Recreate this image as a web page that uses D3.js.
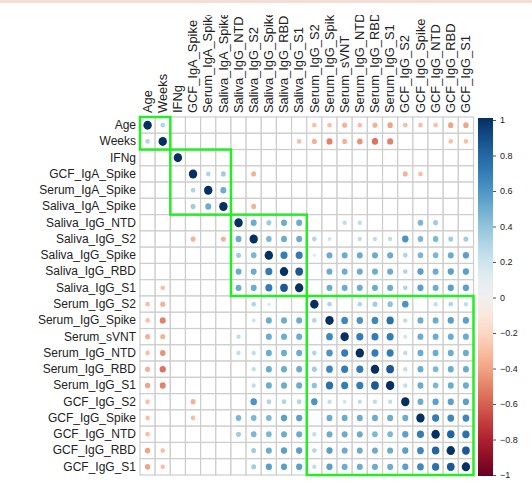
<!DOCTYPE html>
<html>
<head>
<meta charset="utf-8">
<script src="https://cdn.jsdelivr.net/npm/d3@7"></script>
<style>
  body { margin: 0; background: #fff; }
  svg { font-family: "Liberation Sans", Arial, sans-serif; }
</style>
</head>
<body>
<div id="chart"></div>
<script>

// Variable names, in the (clustered) order of the matrix
const variables = [
    "Age", "Weeks", "IFNg", "GCF_IgA_Spike", "Serum_IgA_Spike", "Saliva_IgA_Spike",
    "Saliva_IgG_NTD", "Saliva_IgG_S2", "Saliva_IgG_Spike", "Saliva_IgG_RBD", "Saliva_IgG_S1",
    "Serum_IgG_S2", "Serum_IgG_Spike", "Serum_sVNT", "Serum_IgG_NTD", "Serum_IgG_RBD",
    "Serum_IgG_S1", "GCF_IgG_S2", "GCF_IgG_Spike", "GCF_IgG_NTD", "GCF_IgG_RBD", "GCF_IgG_S1"
];

// Lower triangle of the correlation matrix (null = not significant, left blank)
const n = null;
const corrLower = [
    [1],
    [0.3, 1],
    [n, n, 1],
    [n, n, n, 1],
    [n, n, n, 0.3, 1],
    [n, n, n, 0.35, 0.5, 1],
    [n, n, n, n, n, n, 1],
    [n, n, n, -0.35, n, -0.35, 0.5, 1],
    [n, n, n, n, n, n, 0.35, 0.45, 1],
    [n, n, n, n, n, n, 0.5, 0.5, 0.7, 1],
    [n, -0.3, n, n, n, n, 0.5, 0.5, 0.7, 0.85, 1],
    [-0.3, -0.35, n, n, n, n, n, 0.3, 0.15, n, n, 1],
    [-0.3, -0.5, n, n, n, n, n, 0.2, 0.5, 0.5, 0.5, 0.3, 1],
    [-0.35, -0.35, n, n, n, n, 0.25, n, 0.5, 0.5, 0.5, n, 0.65, 1],
    [-0.3, -0.45, n, n, n, n, 0.25, 0.25, 0.5, 0.5, 0.5, 0.3, 0.6, 0.7, 1],
    [-0.35, -0.55, n, n, n, n, n, 0.25, 0.5, 0.5, 0.5, 0.35, 0.65, 0.7, 0.7, 1],
    [-0.4, -0.5, n, n, n, n, n, 0.25, 0.5, 0.5, 0.5, 0.4, 0.75, 0.7, 0.7, 0.85, 1],
    [-0.3, n, n, -0.35, n, n, n, 0.6, 0.3, 0.3, 0.3, 0.6, 0.25, 0.2, 0.25, 0.25, 0.25, 1],
    [-0.3, n, n, -0.3, n, n, 0.45, 0.45, 0.45, 0.55, 0.55, n, 0.5, 0.5, 0.5, 0.5, 0.5, 0.5, 1],
    [-0.3, n, n, n, n, n, 0.35, 0.45, 0.45, 0.5, 0.5, 0.25, 0.5, 0.5, 0.5, 0.45, 0.45, 0.55, 0.7, 1],
    [-0.4, -0.3, n, n, n, n, n, 0.35, 0.5, 0.55, 0.55, 0.3, 0.55, 0.5, 0.5, 0.5, 0.5, 0.55, 0.65, 0.8, 1],
    [-0.4, -0.3, n, n, n, n, n, 0.35, 0.55, 0.55, 0.55, 0.25, 0.55, 0.5, 0.5, 0.5, 0.5, 0.55, 0.65, 0.75, 0.85, 1]
];

// Sizes of the hierarchical clusters outlined in green
const clusterSizes = [2, 4, 5, 11];

// Colour legend ticks
const legendTicks = [1, 0.8, 0.6, 0.4, 0.2, 0, -0.2, -0.4, -0.6, -0.8, -1];

const W = 532, H = 481;
const grid = { left: 140, right: 473.5, top: 117, bottom: 475 };

const svg = d3.select("#chart")
    .append("svg")
    .attr("width", W)
    .attr("height", H);

svg.append("rect").attr("width", W).attr("height", H).attr("fill", "#fff");
svg.append("rect").attr("width", W).attr("height", 3).attr("fill", "#f4dcd8");

// Scales
const x = d3.scaleBand().domain(variables).range([grid.left, grid.right]);
const y = d3.scaleBand().domain(variables).range([grid.top, grid.bottom]);
const colour = (v) => d3.interpolateRdBu((v + 1) / 2);
const rScale = d3.scaleSqrt().domain([0, 1]).range([0, 4.2]);

// Full matrix from the lower triangle
const cells = [];
variables.forEach((rowName, i) => {
    variables.forEach((colName, j) => {
        const v = i >= j ? corrLower[i][j] : corrLower[j][i];
        cells.push({ row: rowName, col: colName, value: v });
    });
});

// Grid cells
svg.append("g")
    .selectAll("rect")
    .data(cells)
    .join("rect")
    .attr("x", (d) => x(d.col))
    .attr("y", (d) => y(d.row))
    .attr("width", x.bandwidth())
    .attr("height", y.bandwidth())
    .attr("fill", "#fff")
    .attr("stroke", "#cdcdcd")
    .attr("stroke-width", 1.2);

// Circles
svg.append("g")
    .selectAll("ellipse")
    .data(cells.filter((d) => d.value !== null))
    .join("ellipse")
    .attr("cx", (d) => x(d.col) + x.bandwidth() / 2)
    .attr("cy", (d) => y(d.row) + y.bandwidth() / 2)
    .attr("rx", (d) => rScale(Math.abs(d.value)))
    .attr("ry", (d) => rScale(Math.abs(d.value)) * 1.07)
    .attr("fill", (d) => colour(d.value));

// Cluster rectangles
let start = 0;
const clusters = clusterSizes.map((s) => {
    const c = { first: variables[start], last: variables[start + s - 1] };
    start += s;
    return c;
});
svg.append("g")
    .selectAll("rect")
    .data(clusters)
    .join("rect")
    .attr("x", (d) => x(d.first))
    .attr("y", (d) => y(d.first))
    .attr("width", (d) => x(d.last) + x.bandwidth() - x(d.first))
    .attr("height", (d) => y(d.last) + y.bandwidth() - y(d.first))
    .attr("fill", "none")
    .attr("stroke", "#22ee22")
    .attr("stroke-width", 2.5);

// Row labels
const rowAxis = svg.append("g")
    .attr("transform", `translate(${grid.left}, 0)`)
    .call(d3.axisLeft(y).tickSize(0).tickPadding(4));
rowAxis.select(".domain").remove();
rowAxis.selectAll("text")
    .attr("font-size", 12)
    .attr("font-family", "Liberation Sans, Arial, sans-serif")
    .attr("fill", "#222");

// Column labels (rotated, clipped at the top like the reference)
svg.append("clipPath").attr("id", "topClip")
    .append("rect").attr("x", 0).attr("y", 15).attr("width", W).attr("height", H);
const colAxis = svg.append("g")
    .attr("clip-path", "url(#topClip)")
    .append("g")
    .attr("transform", `translate(0, 113) scale(1, 1.075)`)
    .call(d3.axisTop(x).tickSize(0).tickPadding(0));
colAxis.select(".domain").remove();
colAxis.selectAll("text")
    .attr("x", 0)
    .attr("y", 0)
    .attr("dy", "0.35em")
    .attr("transform", "rotate(-90)")
    .style("text-anchor", "start")
    .attr("font-size", 12)
    .attr("font-family", "Liberation Sans, Arial, sans-serif")
    .attr("fill", "#222");

// Colour legend
const legendY = d3.scaleLinear().domain([-1, 1]).range([476, 118]);
const grad = svg.append("defs").append("linearGradient")
    .attr("id", "legendGrad")
    .attr("x1", 0).attr("x2", 0).attr("y1", 1).attr("y2", 0);
grad.selectAll("stop")
    .data(d3.range(0, 1.0001, 0.05))
    .join("stop")
    .attr("offset", (t) => t)
    .attr("stop-color", (t) => d3.interpolateRdBu(t));
svg.append("rect")
    .attr("x", 478)
    .attr("y", legendY(1))
    .attr("width", 15)
    .attr("height", legendY(-1) - legendY(1))
    .attr("fill", "url(#legendGrad)");

const legendAxis = svg.append("g")
    .attr("transform", `translate(493, 0)`)
    .call(d3.axisRight(d3.scaleLinear().domain([-1, 1]).range([475, 120]))
        .tickValues(legendTicks)
        .tickSize(3)
        .tickPadding(4)
        .tickFormat(d3.format("")));
legendAxis.select(".domain").remove();
legendAxis.selectAll("line").attr("stroke", "#555");
legendAxis.selectAll("text")
    .attr("font-size", 9)
    .attr("font-family", "Liberation Sans, Arial, sans-serif")
    .attr("fill", "#222");

</script>
</body>
</html>
